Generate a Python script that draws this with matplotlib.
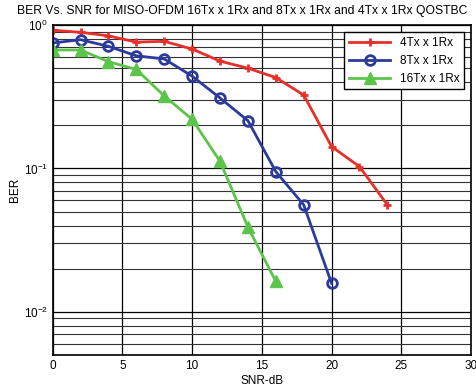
import matplotlib
matplotlib.use("Agg")
import matplotlib.pyplot as plt
import numpy as np
from matplotlib.ticker import LogLocator, NullFormatter, FixedLocator

plt.rcParams['font.family'] = ['Liberation Sans', 'DejaVu Sans']

snr_4 = [0, 2, 4, 6, 8, 10, 12, 14, 16, 18, 20, 22, 24]
ber_4 = [0.92, 0.89, 0.84, 0.76, 0.77, 0.68, 0.56, 0.50, 0.43, 0.325, 0.142, 0.103, 0.0557]
snr_8 = [0, 2, 4, 6, 8, 10, 12, 14, 16, 18, 20]
ber_8 = [0.75, 0.79, 0.71, 0.61, 0.58, 0.44, 0.31, 0.215, 0.095, 0.0557, 0.0158]
snr_16 = [0, 2, 4, 6, 8, 10, 12, 14, 16]
ber_16 = [0.67, 0.67, 0.555, 0.49, 0.32, 0.22, 0.112, 0.039, 0.0163]
labels = ['4Tx x 1Rx', '8Tx x 1Rx', '16Tx x 1Rx']
xticks = [0, 5, 10, 15, 20, 25, 30]

fig = plt.figure(figsize=(4.77, 3.91), dpi=100)
ax = fig.add_axes([0.1105, 0.092, 0.877, 0.844])

ax.semilogy(snr_4, ber_4, color='#e8302a', lw=2, marker='+', ms=6, mew=2, label=labels[0])
ax.semilogy(snr_8, ber_8, color='#2a3b9c', lw=2, marker='o', ms=7, mew=2, mfc='none', label=labels[1])
ax.semilogy(snr_16, ber_16, color='#5cc44a', lw=2, marker='^', ms=9, mew=1, label=labels[2])

ax.set_xlim(0, 30)
ax.set_ylim(0.005, 1)
ax.xaxis.set_major_locator(FixedLocator(xticks))
ax.yaxis.set_major_locator(LogLocator(base=10, numticks=10))
ax.yaxis.set_minor_locator(LogLocator(base=10, subs=np.arange(2, 10), numticks=20))
ax.yaxis.set_minor_formatter(NullFormatter())
ax.grid(True, which='major', color='black', lw=0.9, ls='-')
ax.grid(True, which='minor', axis='y', color='#333333', lw=0.8, ls='-')
ax.tick_params(axis='both', labelsize=8.5, direction='in', length=0, which='both')
for s in ax.spines.values():
    s.set_linewidth(1.2)

ax.set_xlabel('SNR-dB', fontsize=8.5, labelpad=2)
ax.set_ylabel('BER', fontsize=8.5, labelpad=2)
fig.text(242 / 477, 1 - 11 / 391, 'BER Vs. SNR for MISO-OFDM 16Tx x 1Rx and 8Tx x 1Rx and 4Tx x 1Rx QOSTBC',
         fontsize=8.7, ha='center', va='center')

leg = ax.legend(loc='upper right', fontsize=8.5, fancybox=False, framealpha=1,
                edgecolor='black', borderaxespad=0.6, handlelength=3.5)
leg.get_frame().set_linewidth(1.0)

fig.savefig('out.png', dpi=100)
